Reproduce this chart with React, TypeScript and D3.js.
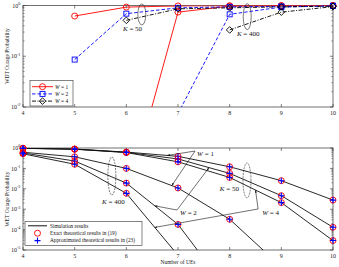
import * as d3 from "d3";
import React from "react";

const W = 339;
const H = 267;
const font = "Liberation Serif, Times New Roman, serif";

// number of UEs on the x axis
const ues = [4, 5, 6, 7, 8, 9, 10];

// WDT outage probability (top panel), null = not plotted
const wdtK50W1 = [null, 0.62, 0.93, 0.98, 0.99, 0.995, 1.0];
const wdtK50W2 = [null, 0.086, 0.69, 0.9, 0.94, 0.96, 0.98];
const wdtK50W4 = [null, null, 0.51, 0.86, 0.9, 0.94, 0.97];
const wdtK400W1 = [null, null, 1.5e-4, 0.74, 0.97, 0.99, 1.0];
const wdtK400W2 = [null, null, null, 0.0074, 0.67, 0.93, 0.99];
const wdtK400W4 = [null, null, null, null, 0.33, 0.74, 0.95];

// WET outage probability (bottom panel)
const wetK50W1 = [0.97, 0.89, 0.63, 0.39, 0.12, 0.025, 0.0028];
const wetK50W2 = [0.97, 0.88, 0.61, 0.29, 0.057, 0.0046, 1.3e-4];
const wetK50W4 = [0.96, 0.87, 0.6, 0.21, 0.036, 0.0021, 2.9e-5];
const wetK400W1 = [0.62, 0.37, 0.1, 0.011, 3.2e-4, 1.5e-6, null];
const wetK400W2 = [0.57, 0.23, 0.019, 1.8e-4, 8e-8, null, null];
const wetK400W4 = [0.52, 0.16, 0.006, 5.5e-6, null, null, null];

const topDecades = [-2, -1, 0];
const botDecades = [-5, -4, -3, -2, -1, 0];

const legendTop = ["W = 1", "W = 2", "W = 4"];
const legendBot = [
  "Simulation results",
  "Exact theoretical results in (19)",
  "Approximated theoretical results in (23)",
];

const x = d3.scaleLinear().domain([4, 10]).range([23, 333]);
const yTop = d3.scaleLog().domain([0.01, 1]).range([107, 5.5]);
const yBot = d3.scaleLog().domain([1e-5, 1]).range([250, 148]);

// interpolate a series (in log space) at a given x
function onLine(s: (number | null)[], xv: number) {
  const i = Math.floor(xv - 4);
  const a = s[i] as number;
  const b = s[i + 1] as number;
  const t = xv - 4 - i;
  return Math.pow(10, Math.log10(a) * (1 - t) + Math.log10(b) * t);
}

function Axes({ y, decades, id }: any) {
  const [x0, x1] = x.range();
  const [yb, yt] = y.range();
  const minor: number[] = [];
  decades.slice(0, -1).forEach((d: number) => {
    for (let k = 2; k < 10; k++) minor.push(k * Math.pow(10, d));
  });
  return (
    <g>
      <defs>
        <clipPath id={id}>
          <rect x={x0} y={yt} width={x1 - x0} height={yb - yt} />
        </clipPath>
      </defs>
      <rect x={x0} y={yt} width={x1 - x0} height={yb - yt} fill="#fff" stroke="#333" strokeWidth={0.7} />
      {ues.map((u) => (
        <g key={u}>
          <line x1={x(u)} x2={x(u)} y1={yb} y2={yb - 3} stroke="#333" strokeWidth={0.6} />
          <line x1={x(u)} x2={x(u)} y1={yt} y2={yt + 3} stroke="#333" strokeWidth={0.6} />
          <text x={x(u)} y={yb + 7.5} fontSize={6} textAnchor="middle" fill="#222">{u}</text>
        </g>
      ))}
      {decades.map((d: number) => (
        <g key={d}>
          <line x1={x0} x2={x0 + 3} y1={y(Math.pow(10, d))} y2={y(Math.pow(10, d))} stroke="#333" strokeWidth={0.6} />
          <line x1={x1} x2={x1 - 3} y1={y(Math.pow(10, d))} y2={y(Math.pow(10, d))} stroke="#333" strokeWidth={0.6} />
          <text x={x0 - 2.5} y={y(Math.pow(10, d)) + 2.2} fontSize={6} textAnchor="end" fill="#222">
            10<tspan dy={-2.8} fontSize={4.3}>{d}</tspan>
          </text>
        </g>
      ))}
      {minor.map((m, i) => (
        <g key={i}>
          <line x1={x0} x2={x0 + 1.6} y1={y(m)} y2={y(m)} stroke="#333" strokeWidth={0.5} />
          <line x1={x1} x2={x1 - 1.6} y1={y(m)} y2={y(m)} stroke="#333" strokeWidth={0.5} />
        </g>
      ))}
    </g>
  );
}

function pts(s: (number | null)[]) {
  return ues.map((u, i) => [u, s[i]] as [number, number | null]);
}

function SeriesPath({ s, y, clip, stroke, dash, width = 0.9 }: any) {
  const line = d3
    .line<[number, number | null]>()
    .defined((d) => d[1] != null)
    .x((d) => x(d[0]))
    .y((d) => y(d[1] as number));
  return (
    <path d={line(pts(s)) || ""} fill="none" stroke={stroke} strokeWidth={width}
      strokeDasharray={dash} clipPath={`url(#${clip})`} />
  );
}

function visible(s: (number | null)[], y: any) {
  const [lo, hi] = y.domain();
  return pts(s).filter((d) => d[1] != null && d[1] >= lo * 0.999 && d[1] <= hi * 1.001);
}

function Circle({ cx, cy, c }: any) {
  return <circle cx={cx} cy={cy} r={3} fill="none" stroke={c} strokeWidth={0.9} />;
}
function Square({ cx, cy }: any) {
  return <rect x={cx - 2.5} y={cy - 2.5} width={5} height={5} fill="none" stroke="#0000ff" strokeWidth={0.9} />;
}
function Diamond({ cx, cy }: any) {
  return <path d={`M${cx},${cy - 3.3}L${cx + 3.3},${cy}L${cx},${cy + 3.3}L${cx - 3.3},${cy}Z`} fill="none" stroke="#000" strokeWidth={0.9} />;
}
function Plus({ cx, cy }: any) {
  return (
    <path d={`M${cx - 3},${cy}H${cx + 3}M${cx},${cy - 3}V${cy + 3}`} stroke="#0000ff" strokeWidth={1.1} fill="none" />
  );
}

const topStyles = [
  { c: "#ff0000", dash: undefined, M: (p: any) => <Circle {...p} c="#ff0000" /> },
  { c: "#0000ff", dash: "3.5,2", M: (p: any) => <Square {...p} /> },
  { c: "#000000", dash: "4,1.5,1,1.5", M: (p: any) => <Diamond {...p} /> },
];

function Arrow({ from, to }: any) {
  return <line x1={from[0]} y1={from[1]} x2={to[0]} y2={to[1]} stroke="#111" strokeWidth={0.6} markerEnd="url(#ah)" />;
}

function Label({ px, py, name, val, size = 7 }: any) {
  return (
    <text x={px} y={py} fontSize={size} fill="#111" fontFamily={font}>
      <tspan fontStyle="italic">{name}</tspan> = {val}
    </text>
  );
}

export default function App() {
  const topSeries = [
    [wdtK50W1, wdtK400W1],
    [wdtK50W2, wdtK400W2],
    [wdtK50W4, wdtK400W4],
  ];
  const botSeries = [wetK50W1, wetK50W2, wetK50W4, wetK400W1, wetK400W2, wetK400W4];

  // annotation anchors (data units)
  const w1v = [x(7.33), yBot(0.71)];
  const w2v = [x(6.98), yBot(Math.pow(10, -3.04))];
  const w4v = [x(8.55), yBot(Math.pow(10, -2.99))];

  return (
    <svg width={W} height={H} style={{ position: "absolute", left: 0, top: 0, background: "#fff" }} fontFamily={font}>
      <defs>
        <marker id="ah" viewBox="0 0 10 10" refX={10} refY={5} markerWidth={4.5} markerHeight={4.5} orient="auto">
          <path d="M0,1.5L10,5L0,8.5Z" fill="#111" />
        </marker>
      </defs>

      {/* ---- top panel: WDT ---- */}
      <Axes y={yTop} decades={topDecades} id="clipTop" />
      {topSeries.map((pair, i) =>
        pair.map((s, j) => (
          <g key={`${i}-${j}`}>
            <SeriesPath s={s} y={yTop} clip="clipTop" stroke={topStyles[i].c} dash={topStyles[i].dash} />
            {visible(s, yTop).map((d, k) => (
              <g key={k}>{topStyles[i].M({ cx: x(d[0]), cy: yTop(d[1] as number) })}</g>
            ))}
          </g>
        ))
      )}
      <ellipse cx={x(6.3)} cy={yTop(Math.pow(10, -0.177))} rx={4} ry={10.5} fill="none" stroke="#222" strokeWidth={0.6} />
      <ellipse cx={x(8.34)} cy={yTop(Math.pow(10, -0.22))} rx={4} ry={13} fill="none" stroke="#222" strokeWidth={0.6} />
      <Label px={x(5.935)} py={yTop(Math.pow(10, -0.502))} name="K" val="50" />
      <Label px={x(8.14)} py={yTop(Math.pow(10, -0.6))} name="K" val="400" />
      <g>
        <rect x={30} y={80.5} width={43} height={25.5} fill="#fff" stroke="#333" strokeWidth={0.6} />
        {legendTop.map((t, i) => {
          const ly = 86.7 + i * 7.2;
          return (
            <g key={t}>
              <line x1={32} x2={53} y1={ly} y2={ly} stroke={topStyles[i].c} strokeWidth={0.9} strokeDasharray={topStyles[i].dash} />
              {topStyles[i].M({ cx: 42.5, cy: ly })}
              <text x={55} y={ly + 2} fontSize={5.5} fill="#111">
                <tspan fontStyle="italic">W</tspan>{t.slice(1)}
              </text>
            </g>
          );
        })}
      </g>
      <text transform={`translate(9,56) rotate(-90)`} fontSize={5.5} textAnchor="middle" fill="#222">
        WDT Outage Probability
      </text>

      {/* ---- bottom panel: WET ---- */}
      <Axes y={yBot} decades={botDecades} id="clipBot" />
      {botSeries.map((s, i) => (
        <SeriesPath key={i} s={s} y={yBot} clip="clipBot" stroke="#111" width={0.9} />
      ))}
      {botSeries.map((s, i) =>
        visible(s, yBot).map((d, k) => (
          <g key={`${i}-${k}`}>
            <Circle cx={x(d[0])} cy={yBot(d[1] as number)} c="#ff0000" />
            <Plus cx={x(d[0])} cy={yBot(d[1] as number)} />
          </g>
        ))
      )}
      <ellipse cx={x(5.72)} cy={yBot(Math.pow(10, -1.37))} rx={4} ry={19} fill="none" stroke="#222" strokeWidth={0.6} strokeDasharray="2,1" />
      <ellipse cx={x(8.335)} cy={yBot(Math.pow(10, -1.59))} rx={4} ry={17.5} fill="none" stroke="#222" strokeWidth={0.6} strokeDasharray="2,1" />
      <Label px={x(5.53)} py={yBot(Math.pow(10, -2.745))} name="K" val="400" />
      <Label px={x(7.81)} py={yBot(Math.pow(10, -2.11))} name="K" val="50" />

      <Arrow from={w1v} to={[x(6.79), yBot(onLine(wetK50W1, 6.79))]} />
      <Arrow from={w1v} to={[x(6.88), yBot(onLine(wetK400W1, 6.88))]} />
      <Label px={x(7.37)} py={yBot(0.4)} name="W" val="1" />

      <Arrow from={w2v} to={[x(7.6), yBot(onLine(wetK50W2, 7.6))]} />
      <Arrow from={w2v} to={[x(6.55), yBot(onLine(wetK400W2, 6.55))]} />
      <Label px={x(7.04)} py={yBot(Math.pow(10, -3.28))} name="W" val="2" />

      <Arrow from={w4v} to={[x(8.5), yBot(onLine(wetK50W4, 8.5))]} />
      <Arrow from={w4v} to={[x(6.55), yBot(onLine(wetK400W4, 6.55))]} />
      <Label px={x(8.63)} py={yBot(Math.pow(10, -3.28))} name="W" val="4" />

      <g>
        <rect x={25} y={221.5} width={117} height={24} fill="#fff" stroke="#333" strokeWidth={0.6} />
        <line x1={28} x2={47} y1={225.8} y2={225.8} stroke="#111" strokeWidth={1} />
        <Circle cx={37.5} cy={233.2} c="#ff0000" />
        <Plus cx={37.5} cy={240.6} />
        {legendBot.map((t, i) => (
          <text key={t} x={50} y={227.6 + i * 7.4} fontSize={5.3} fill="#111">{t}</text>
        ))}
      </g>
      <text transform={`translate(9,199) rotate(-90)`} fontSize={5.5} textAnchor="middle" fill="#222">
        WET Outage Probability
      </text>
      <text x={178} y={264} fontSize={5.5} textAnchor="middle" fill="#222">Number of UEs</text>
    </svg>
  );
}
